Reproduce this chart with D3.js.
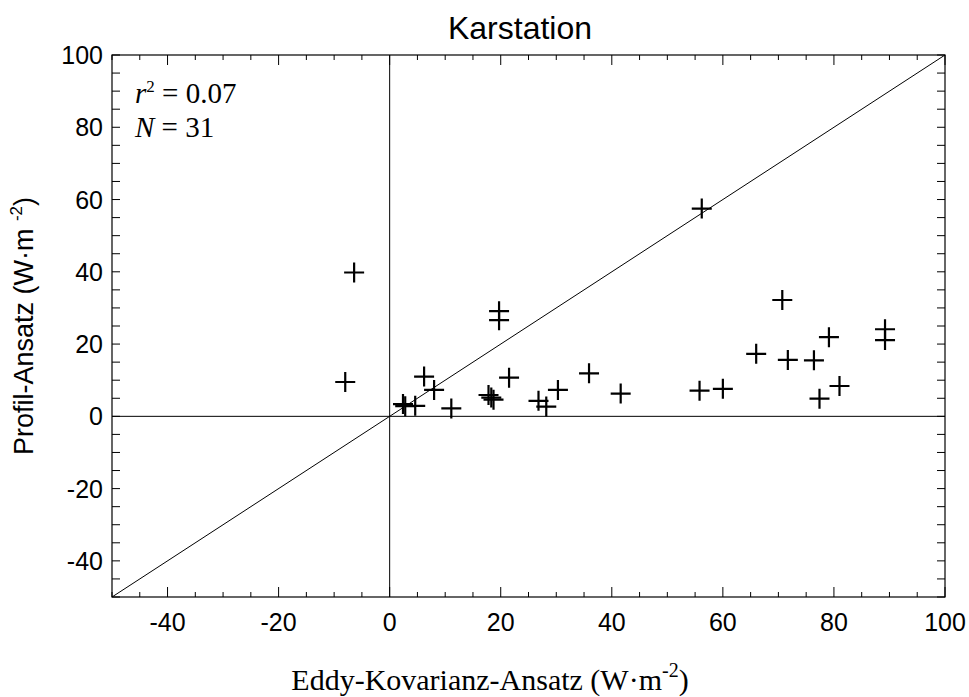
<!DOCTYPE html>
<html>
<head>
<meta charset="utf-8">
<script src="https://cdn.jsdelivr.net/npm/d3@7"></script>
<style>
  html, body { margin: 0; padding: 0; background: #fff; }
  svg { display: block; }
</style>
</head>
<body>
<svg id="chart" width="969" height="697"></svg>
<script>
// ---- Data ----
const eddyX = [-8.0, -6.4, 2.4, 2.8, 4.6, 6.2, 8.0, 11.1, 17.8, 18.3, 18.7, 19.7, 19.7, 21.5, 26.8, 28.2, 30.3, 35.9, 41.6, 55.8, 56.2, 60.0, 66.0, 70.7, 71.7, 76.4, 77.4, 79.1, 81.0, 89.2, 89.2];
const profilY = [9.5, 39.8, 3.4, 2.8, 2.9, 11.0, 7.3, 2.2, 5.9, 5.2, 4.6, 29.1, 26.6, 10.7, 4.3, 2.7, 7.3, 11.9, 6.3, 7.1, 57.5, 7.6, 17.3, 32.2, 15.6, 15.5, 4.9, 21.9, 8.4, 24.1, 21.1];
const xDomain = [-50, 100];
const yDomain = [-50, 100];
const xMajorTicks = [-40, -20, 0, 20, 40, 60, 80, 100];
const yMajorTicks = [-40, -20, 0, 20, 40, 60, 80, 100];
const minorStep = 5;
const titleText = "Karstation";
const r2Text = "0.07";
const nText = "31";

// ---- Layout ----
const svg = d3.select("#chart");
const mL = 112, mR = 945, mT = 55, mB = 597;
const x = d3.scaleLinear().domain(xDomain).range([mL, mR]);
const y = d3.scaleLinear().domain(yDomain).range([mB, mT]);
const xMinor = d3.range(xDomain[0], xDomain[1] + 0.001, minorStep);
const yMinor = d3.range(yDomain[0], yDomain[1] + 0.001, minorStep);

const sans = "Liberation Sans, Arial, sans-serif";
const serif = "Liberation Serif, Times New Roman, serif";

svg.append("defs").append("clipPath").attr("id", "plotclip")
  .append("rect").attr("x", mL).attr("y", mT).attr("width", mR - mL).attr("height", mB - mT);

const plot = svg.append("g").attr("clip-path", "url(#plotclip)");
plot.append("line").attr("x1", mL).attr("x2", mR).attr("y1", y(0)).attr("y2", y(0))
  .attr("stroke", "#000").attr("stroke-width", 1);
plot.append("line").attr("x1", x(0)).attr("x2", x(0)).attr("y1", mT).attr("y2", mB)
  .attr("stroke", "#000").attr("stroke-width", 1);
plot.append("line").attr("x1", x(xDomain[0])).attr("y1", y(xDomain[0]))
  .attr("x2", x(xDomain[1])).attr("y2", y(xDomain[1]))
  .attr("stroke", "#000").attr("stroke-width", 1);

function xTickSize(v) { return xMajorTicks.includes(v) ? 10 : 5; }
const gxb = svg.append("g").attr("transform", `translate(0,${mB})`);
gxb.selectAll("line").data(xMinor).join("line")
  .attr("x1", d => x(d)).attr("x2", d => x(d)).attr("y1", 0).attr("y2", d => -xTickSize(d))
  .attr("stroke", "#000").attr("stroke-width", 1);
const gxt = svg.append("g").attr("transform", `translate(0,${mT})`);
gxt.selectAll("line").data(xMinor).join("line")
  .attr("x1", d => x(d)).attr("x2", d => x(d)).attr("y1", 0).attr("y2", d => xTickSize(d))
  .attr("stroke", "#000").attr("stroke-width", 1);

const gyl = svg.append("g").attr("transform", `translate(${mL},0)`);
gyl.selectAll("line").data(yMinor).join("line")
  .attr("y1", d => y(d)).attr("y2", d => y(d)).attr("x1", 0).attr("x2", 8)
  .attr("stroke", "#000").attr("stroke-width", 1);
const gyr = svg.append("g").attr("transform", `translate(${mR},0)`);
gyr.selectAll("line").data(yMinor).join("line")
  .attr("y1", d => y(d)).attr("y2", d => y(d)).attr("x1", 0).attr("x2", -8)
  .attr("stroke", "#000").attr("stroke-width", 1);

svg.append("rect").attr("x", mL).attr("y", mT).attr("width", mR - mL).attr("height", mB - mT)
  .attr("fill", "none").attr("stroke", "#000").attr("stroke-width", 1.2);

svg.append("g").selectAll("text").data(xMajorTicks).join("text")
  .attr("x", d => x(d)).attr("y", mB + 34)
  .attr("text-anchor", "middle").attr("font-family", sans).attr("font-size", 25)
  .text(d => d);
svg.append("g").selectAll("text").data(yMajorTicks).join("text")
  .attr("x", mL - 9).attr("y", d => y(d)).attr("dy", "0.36em")
  .attr("text-anchor", "end").attr("font-family", sans).attr("font-size", 25)
  .text(d => d);

const pts = d3.range(eddyX.length).map(i => ({ x: eddyX[i], y: profilY[i] }));
svg.append("g").selectAll("path").data(pts).join("path")
  .attr("d", p => {
    const cx = x(p.x), cy = y(p.y), h = 10;
    return `M${cx - h},${cy}H${cx + h}M${cx},${cy - h}V${cy + h}`;
  })
  .attr("stroke", "#000").attr("stroke-width", 2.2).attr("fill", "none");

svg.append("text").attr("x", 520).attr("y", 39).attr("text-anchor", "middle")
  .attr("font-family", sans).attr("font-size", 32).text(titleText);

const a1 = svg.append("text").attr("x", 135).attr("y", 103)
  .attr("font-family", serif).attr("font-size", 29);
a1.append("tspan").attr("font-style", "italic").text("r");
a1.append("tspan").attr("font-size", 17).attr("dy", -11).text("2");
a1.append("tspan").attr("dy", 11).text(" = " + r2Text);
const a2 = svg.append("text").attr("x", 135).attr("y", 137)
  .attr("font-family", serif).attr("font-size", 29);
a2.append("tspan").attr("font-style", "italic").text("N");
a2.append("tspan").text(" = " + nText);

const xl = svg.append("text").attr("x", 490).attr("y", 690).attr("text-anchor", "middle")
  .attr("font-family", serif).attr("font-size", 30);
xl.append("tspan").text("Eddy-Kovarianz-Ansatz (W·m");
xl.append("tspan").attr("font-size", 20).attr("dy", -13).text("-2");
xl.append("tspan").attr("dy", 13).text(")");

const yl = svg.append("text").attr("transform", `translate(33,${(mT + mB) / 2}) rotate(-90)`)
  .attr("text-anchor", "middle").attr("font-family", sans).attr("font-size", 27);
yl.append("tspan").text("Profil-Ansatz (W·m ");
yl.append("tspan").attr("font-size", 17).attr("dy", -11).text("-2");
yl.append("tspan").attr("dy", 11).text(")");
</script>
</body>
</html>
